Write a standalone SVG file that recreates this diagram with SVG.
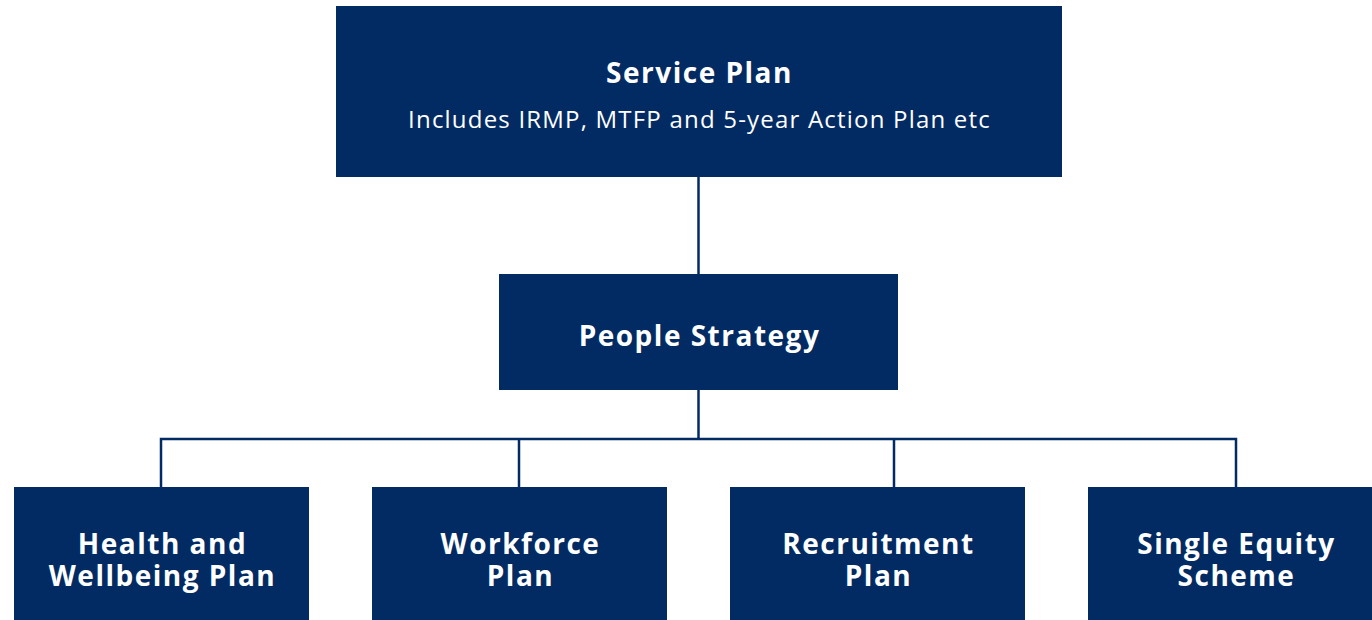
<svg xmlns="http://www.w3.org/2000/svg" width="1372" height="620" viewBox="0 0 1372 620">
<style>
.box{fill:#022b63}
.t{font-family:"Open Sans","Liberation Sans",sans-serif;fill:#fff;text-anchor:middle}
.b{font-weight:700;font-size:28px;letter-spacing:1.5px}
.s{font-size:24px;letter-spacing:1.2px}
.c{stroke:#022b63;stroke-width:2.5;fill:none}
</style>
<rect width="1372" height="620" fill="#fff"/>
<g id="connectors">
<line class="c" x1="698.5" y1="177" x2="698.5" y2="274"/>
<line class="c" x1="698.5" y1="390" x2="698.5" y2="439"/>
<polyline class="c" points="161,487 161,439 1236,439 1236,487"/>
<line class="c" x1="519" y1="439" x2="519" y2="487"/>
<line class="c" x1="894" y1="439" x2="894" y2="487"/>
</g>
<g id="service-plan">
<rect class="box" x="336" y="6" width="726" height="171"/>
<text class="t b" x="699.5" y="83">Service Plan</text>
<text class="t s" x="699.5" y="128">Includes IRMP, MTFP and 5-year Action Plan etc</text>
</g>
<g id="people-strategy">
<rect class="box" x="499" y="274" width="399" height="116"/>
<text class="t b" x="699.5" y="346">People Strategy</text>
</g>
<g id="health">
<rect class="box" x="14" y="487" width="295" height="133"/>
<text class="t b" x="162.5" y="554">Health and</text>
<text class="t b" x="162.5" y="586">Wellbeing Plan</text>
</g>
<g id="workforce">
<rect class="box" x="372" y="487" width="295" height="133"/>
<text class="t b" x="520.5" y="554">Workforce</text>
<text class="t b" x="520.5" y="586">Plan</text>
</g>
<g id="recruitment">
<rect class="box" x="730" y="487" width="295" height="133"/>
<text class="t b" x="878.5" y="554">Recruitment</text>
<text class="t b" x="878.5" y="586">Plan</text>
</g>
<g id="equity">
<rect class="box" x="1088" y="487" width="295" height="133"/>
<text class="t b" x="1236.5" y="554">Single Equity</text>
<text class="t b" x="1236.5" y="586">Scheme</text>
</g>
</svg>
